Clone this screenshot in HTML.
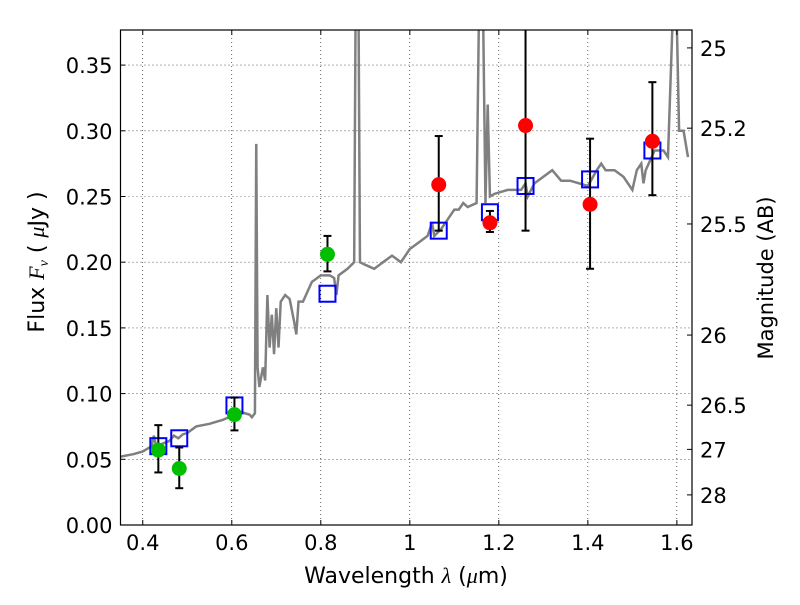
<!DOCTYPE html>
<html><head><meta charset="utf-8"><style>
body{margin:0;background:#fff;font-family:"Liberation Sans","DejaVu Sans",sans-serif}
svg text{font-family:"DejaVu Sans","Liberation Sans",sans-serif}
</style></head><body>
<svg id="c" width="800" height="600" viewBox="0 0 800 600"></svg>
<script>
const specX=[0.35,0.38,0.40,0.42,0.425,0.43,0.46,0.47,0.48,0.49,0.50,0.52,0.55,0.58,0.60,0.62,0.64,0.645,0.652,0.655,0.658,0.662,0.67,0.675,0.68,0.685,0.69,0.695,0.70,0.705,0.71,0.72,0.73,0.74,0.745,0.75,0.76,0.78,0.80,0.82,0.83,0.835,0.84,0.86,0.875,0.878,0.885,0.888,0.90,0.92,0.94,0.96,0.98,1.0,1.02,1.04,1.05,1.055,1.07,1.09,1.10,1.11,1.12,1.13,1.15,1.155,1.165,1.17,1.175,1.18,1.19,1.22,1.25,1.26,1.265,1.28,1.30,1.32,1.34,1.36,1.38,1.40,1.42,1.43,1.44,1.46,1.48,1.50,1.51,1.52,1.525,1.53,1.55,1.57,1.58,1.59,1.60,1.605,1.615,1.625];
const specY=[0.052,0.054,0.056,0.060,0.068,0.060,0.064,0.068,0.066,0.069,0.070,0.075,0.077,0.080,0.083,0.086,0.084,0.082,0.085,0.29,0.12,0.105,0.12,0.11,0.175,0.135,0.16,0.13,0.165,0.135,0.17,0.175,0.172,0.155,0.145,0.17,0.17,0.185,0.19,0.19,0.188,0.175,0.19,0.195,0.20,0.38,0.38,0.20,0.198,0.195,0.2,0.205,0.2,0.21,0.215,0.22,0.23,0.22,0.225,0.235,0.24,0.24,0.245,0.242,0.245,0.38,0.38,0.245,0.32,0.25,0.252,0.255,0.255,0.26,0.25,0.26,0.265,0.27,0.262,0.262,0.26,0.258,0.27,0.275,0.27,0.27,0.265,0.255,0.27,0.275,0.26,0.27,0.285,0.285,0.28,0.38,0.38,0.30,0.30,0.28];
const greenX=[0.435,0.482,0.606,0.815];
const greenY=[0.057,0.043,0.084,0.206];
const greenLo=[0.040,0.028,0.072,0.193];
const greenHi=[0.076,0.059,0.097,0.220];
const redX=[1.065,1.18,1.26,1.405,1.545];
const redY=[0.259,0.230,0.304,0.244,0.292];
const redLo=[0.224,0.223,0.224,0.195,0.251];
const redHi=[0.296,0.239,0.40,0.294,0.337];
const modelX=[0.435,0.482,0.606,0.815,1.065,1.18,1.26,1.405,1.545];
const modelY=[0.060,0.066,0.091,0.176,0.224,0.238,0.258,0.263,0.285];
const xTicks=[0.4,0.6,0.8,1.0,1.2,1.4,1.6];
const xTickLabels=["0.4","0.6","0.8","1","1.2","1.4","1.6"];
const yTicks=[0,0.05,0.1,0.15,0.2,0.25,0.3,0.35];
const yTickLabels=["0.00","0.05","0.10","0.15","0.20","0.25","0.30","0.35"];
const magTicks=[25,25.2,25.5,26,26.5,27,28];
const magLabels=["25","25.2","25.5","26","26.5","27","28"];

const L=120.5,R=692,T=30,B=525;
const sx=v=>L+(v-0.35)/(1.634-0.35)*(R-L);
const sy=v=>B-v/0.3767*(B-T);
const svg=document.getElementById('c');
const NS='http://www.w3.org/2000/svg';
function mk(t,a,p){const e=document.createElementNS(NS,t);for(const k in a)e.setAttribute(k,a[k]);(p||svg).appendChild(e);return e;}
const defs=mk('defs',{});const cp=mk('clipPath',{id:'cp'},defs);mk('rect',{x:L,y:T,width:R-L,height:B-T},cp);
const grid=mk('g',{stroke:'#000','stroke-width':0.6,'stroke-dasharray':'1,3'});


xTicks.forEach(v=>mk('line',{x1:sx(v),x2:sx(v),y1:T,y2:B},grid));
yTicks.forEach(v=>mk('line',{x1:L,x2:R,y1:sy(v),y2:sy(v)},grid));
const g=mk('g',{'clip-path':'url(#cp)'});
const sp=mk('polyline',{points:specX.map((x,i)=>sx(x)+','+sy(specY[i])).join(' '),fill:'none',stroke:'#808080','stroke-width':2.5},g);


modelX.forEach((x,i)=>{const r=mk('rect',{x:sx(x)-8,y:sy(modelY[i])-8,width:16,height:16,fill:'none',stroke:'#0000ff','stroke-width':2},g);

});
function pts(X,Y,Lo,Hi,col,name){X.forEach((x,i)=>{
mk('line',{x1:sx(x),x2:sx(x),y1:sy(Lo[i]),y2:sy(Hi[i]),stroke:'#000','stroke-width':2},g);
mk('line',{x1:sx(x)-4,x2:sx(x)+4,y1:sy(Lo[i]),y2:sy(Lo[i]),stroke:'#000','stroke-width':2},g);
mk('line',{x1:sx(x)-4,x2:sx(x)+4,y1:sy(Hi[i]),y2:sy(Hi[i]),stroke:'#000','stroke-width':2},g);
const c=mk('circle',{cx:sx(x),cy:sy(Y[i]),r:7.5,fill:col},g);

});}
pts(greenX,greenY,greenLo,greenHi,'#00bf00','hst-photometry-point');
pts(redX,redY,redLo,redHi,'#ff0000','ir-photometry-point');
const fr=mk('rect',{x:L,y:T,width:R-L,height:B-T,fill:'none',stroke:'#000','stroke-width':1.2});


xTicks.forEach((v,i)=>{mk('line',{x1:sx(v),x2:sx(v),y1:B,y2:B-5,stroke:'#000'});mk('line',{x1:sx(v),x2:sx(v),y1:T,y2:T+5,stroke:'#000'});
const t=mk('text',{x:sx(v),y:B+25,'text-anchor':'middle','font-size':21});t.textContent=xTickLabels[i];

});
yTicks.forEach((v,i)=>{mk('line',{x1:L,x2:L+5,y1:sy(v),y2:sy(v),stroke:'#000'});
const t=mk('text',{x:L-8,y:sy(v)+8,'text-anchor':'end','font-size':21});t.textContent=yTickLabels[i];

});
magTicks.forEach((m,i)=>{const f=Math.pow(10,(23.9-m)/2.5);mk('line',{x1:R,x2:R-5,y1:sy(f),y2:sy(f),stroke:'#000'});
const t=mk('text',{x:R+8,y:sy(f)+8,'font-size':21});t.textContent=magLabels[i];

});
let t=mk('text',{x:406,y:583,'text-anchor':'middle','font-size':22});t.innerHTML='Wavelength  <tspan font-style="italic" font-family="Liberation Serif">λ</tspan> (<tspan font-style="italic" font-family="Liberation Serif">μ</tspan>m)';


t=mk('text',{x:0,y:0,'text-anchor':'middle','font-size':22,transform:'translate(44,262) rotate(-90)'});t.innerHTML='Flux  <tspan font-style="italic" font-family="Liberation Serif">F</tspan><tspan font-style="italic" font-size="14" font-family="Liberation Serif" dy="4">ν</tspan><tspan dy="-4">  (  </tspan><tspan font-style="italic" font-family="Liberation Serif">μ</tspan>Jy )';


t=mk('text',{x:0,y:0,'text-anchor':'middle','font-size':21,transform:'translate(773,278) rotate(-90)'});t.textContent='Magnitude (AB)';


</script>
</body></html>
